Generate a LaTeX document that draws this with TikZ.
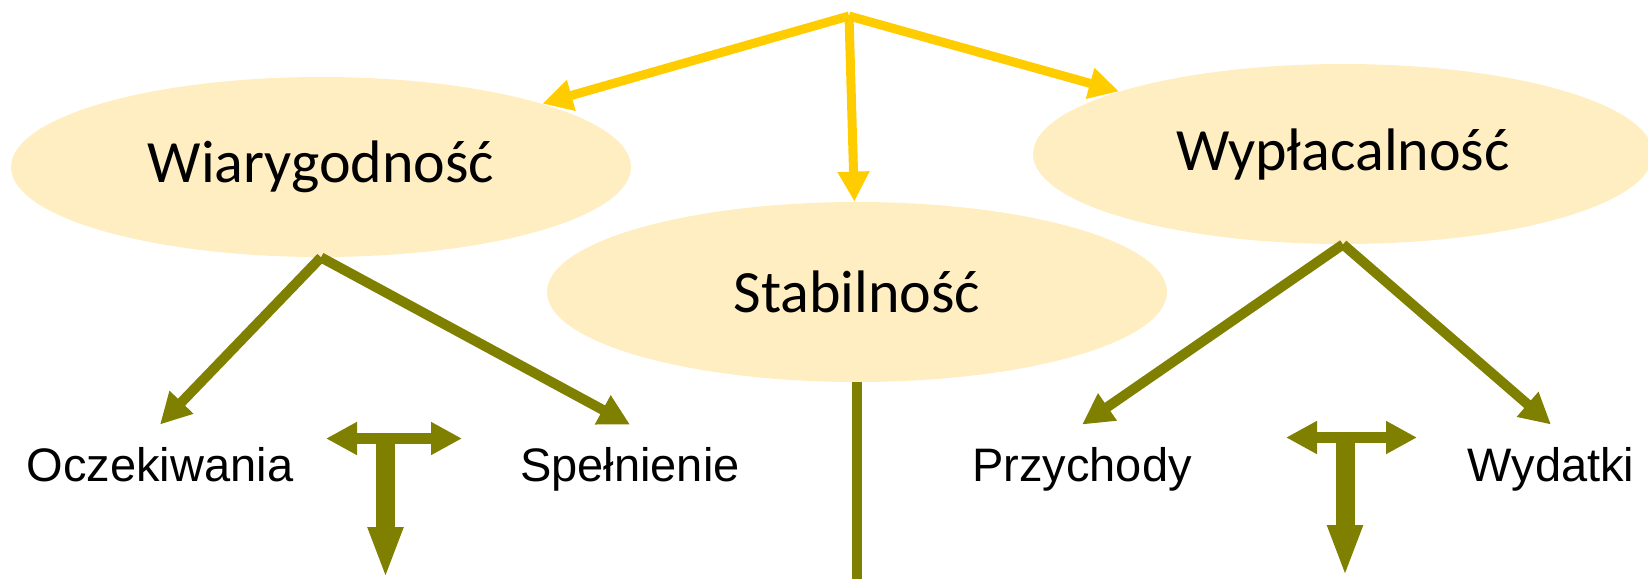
\documentclass[tikz,border=0pt]{standalone}
\usepackage{fontspec}
\setmainfont{Carlito}
\newfontfamily\arialfont{Liberation Sans}
\usetikzlibrary{arrows.meta,shapes.geometric}
\definecolor{ellfill}{HTML}{FFEEC2}
\definecolor{ylw}{HTML}{FFCC00}
\definecolor{oliv}{HTML}{808000}
\begin{document}
\begin{tikzpicture}[x=0.5pt,y=-0.5pt,line join=miter,
	ell/.style={ellipse,fill=ellfill,inner sep=0pt,minimum width=310pt,minimum height=90pt,font=\fontsize{30}{36}\selectfont},
	lab/.style={anchor=base,inner sep=11pt,font=\arialfont\fontsize{23.5}{28}\selectfont},
	ylink/.style={ylw,line width=4.5pt,-{Triangle[length=15pt,width=15pt]}},
	olink/.style={oliv,line width=5pt,-{Triangle[length=15.5pt,width=15.5pt]}}]
		\useasboundingbox (0,0) rectangle (1648,579);
		% three ellipses
		\node[ell] (wiar) at (321,167) {Wiarygodność};
		\node[ell] (stab) at (857,292) {Stabilność};
		\node[ell] (wyp) at (1343,154) {Wypłacalność};
		% labels below
		\node[lab] (ocz) at (160,481) {Oczekiwania};
		\node[lab] (spel) at (630,481) {Spełnienie};
		\node[lab] (przy) at (1082,481) {Przychody};
		\node[lab] (wyd) at (1551,481) {Wydatki};
		\coordinate (top) at (849,16);
		\coordinate (stabend) at (857,579);
		% yellow arrows from the top
		\draw[ylink] (top)--(wiar);
		\draw[ylink] (top)--(stab);
		\draw[ylink] (top)--(wyp);
		% olive arrows
		\draw[olink] (wiar.south)--(ocz.north);
		\draw[olink] (wiar.south)--(spel.north);
		\draw[olink] (wyp.south)--(przy.north);
		\draw[olink] (wyp.south)--(wyd.north);
		\draw[oliv,line width=5.25pt] (stab.south)--(stabend);
		% T arrows
		\draw[oliv,line width=5.5pt,{Triangle[length=15.5pt,width=15.5pt]}-{Triangle[length=15.5pt,width=15.5pt]}] (326,438.5)--(462,438.5);
		\draw[oliv,line width=9.5pt,-{Triangle[length=26pt,width=16pt]}] (385.5,438.5)--(385.5,579);
		\draw[oliv,line width=5.5pt,{Triangle[length=15.5pt,width=15.5pt]}-{Triangle[length=15.5pt,width=15.5pt]}] (1286,437.5)--(1417,437.5);
		\draw[oliv,line width=9.5pt,-{Triangle[length=26pt,width=16pt]}] (1345,437.5)--(1345,577);
\end{tikzpicture}
\end{document}
